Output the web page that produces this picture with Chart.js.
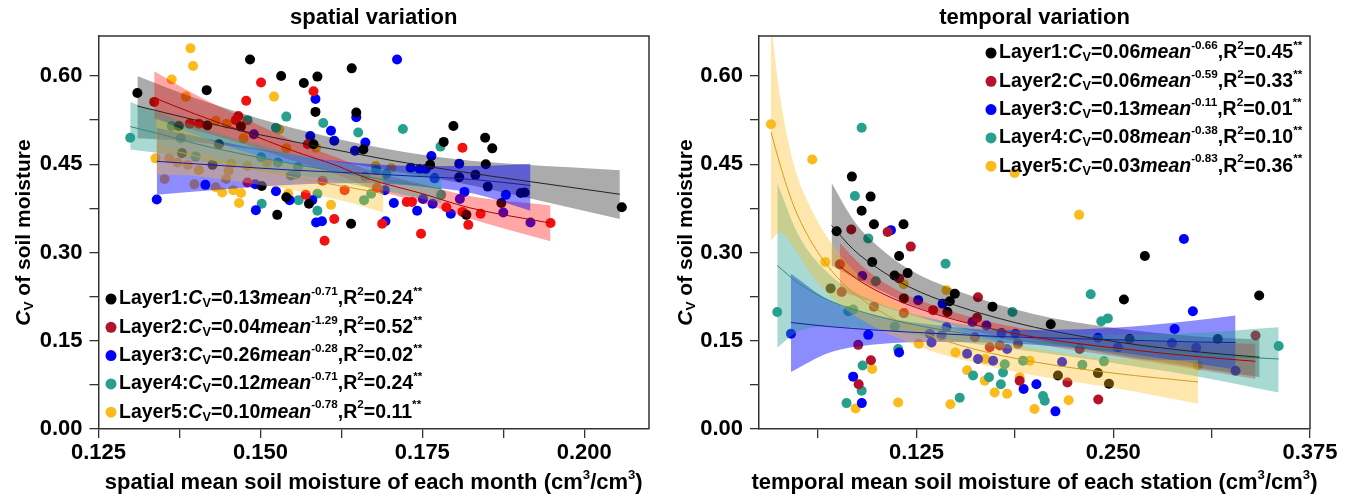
<!DOCTYPE html>
<html>
<head>
<meta charset="utf-8">
<script src="https://cdn.jsdelivr.net/npm/chart.js@4.4.1/dist/chart.umd.min.js"></script>
<style>
  body { margin: 0; background: #fff; }
  #wrap { display: flex; width: 1351px; height: 497px; }
  canvas { display: block; }
</style>
</head>
<body>
<div id="wrap">
  <canvas id="spatial" width="670" height="497"></canvas>
  <canvas id="temporal" width="681" height="497"></canvas>
</div>
<script>
// legend / equation text
const layerNames = ['Layer1', 'Layer2', 'Layer3', 'Layer4', 'Layer5'];
const spatialCoef = ['0.13', '0.04', '0.26', '0.12', '0.10'];
const spatialExp = ['-0.71', '-1.29', '-0.28', '-0.71', '-0.78'];
const spatialR2 = ['0.24', '0.52', '0.02', '0.24', '0.11'];
const temporalCoef = ['0.06', '0.06', '0.13', '0.08', '0.03'];
const temporalExp = ['-0.66', '-0.59', '-0.11', '-0.38', '-0.83'];
const temporalR2 = ['0.45', '0.33', '0.01', '0.10', '0.36'];

// ticks
const yTicks = [0, 0.075, 0.15, 0.225, 0.3, 0.375, 0.45, 0.525, 0.6];
const yTickLabels = ['0.00', '', '0.15', '', '0.30', '', '0.45', '', '0.60'];
const spatialXTicks = [0.125, 0.1375, 0.15, 0.1625, 0.175, 0.1875, 0.2];
const spatialXTickLabels = ['0.125', '', '0.150', '', '0.175', '', '0.200'];
const temporalXTicks = [0.0625, 0.125, 0.1875, 0.25, 0.3125, 0.375];
const temporalXTickLabels = ['', '0.125', '', '0.250', '', '0.375'];

// spatial variation: monthly points, one sub-array per layer
const spatialPointsX = [
  [0.1310, 0.1417, 0.1484, 0.1532, 0.1567, 0.1588, 0.1585, 0.1641, 0.1648, 0.1659, 0.1762, 0.1783, 0.1798, 0.1847, 0.1858, 0.1848, 0.2058, 0.1526, 0.1640, 0.1502, 0.1540, 0.1575, 0.1818, 0.1418, 0.1470, 0.1374, 0.1436, 0.1379, 0.1582, 0.1851, 0.1902, 0.1908, 0.1832, 0.1807, 0.1872, 0.1426],
  [0.1336, 0.1501, 0.1478, 0.1582, 0.1462, 0.1466, 0.1391, 0.1405, 0.1573, 0.1570, 0.1599, 0.1614, 0.1630, 0.1688, 0.1726, 0.1734, 0.1748, 0.1787, 0.1812, 0.1812, 0.1821, 0.1840, 0.1948, 0.1480, 0.1596, 0.1680],
  [0.1340, 0.1585, 0.1609, 0.1614, 0.1648, 0.1646, 0.1662, 0.1711, 0.1764, 0.1732, 0.1746, 0.1755, 0.1807, 0.1815, 0.1879, 0.1706, 0.1742, 0.1693, 0.1794, 0.1493, 0.1492, 0.1524, 0.1545, 0.1580, 0.1586, 0.1595, 0.1415, 0.1577, 0.1917, 0.1875, 0.1808, 0.1751, 0.1766, 0.1490, 0.1769, 0.1692],
  [0.1299, 0.1540, 0.1597, 0.1651, 0.1720, 0.1778, 0.1480, 0.1524, 0.1400, 0.1527, 0.1502, 0.1501, 0.1559, 0.1588, 0.1588, 0.1660, 0.1671, 0.1547, 0.1555, 0.1558, 0.1679, 0.1694, 0.1779, 0.1363, 0.1377, 0.1662],
  [0.1392, 0.1396, 0.1363, 0.1385, 0.1521, 0.1338, 0.1359, 0.1372, 0.1388, 0.1352, 0.1405, 0.1398, 0.1431, 0.1441, 0.1447, 0.1451, 0.1455, 0.1458, 0.1470, 0.1467, 0.1480, 0.1510, 0.1543, 0.1609, 0.1431, 0.1474, 0.1540, 0.1529, 0.1586, 0.1448, 0.1678, 0.1702]
];
const spatialPointsY = [
  [0.571, 0.576, 0.628, 0.600, 0.588, 0.599, 0.539, 0.613, 0.538, 0.475, 0.449, 0.488, 0.515, 0.495, 0.477, 0.450, 0.377, 0.364, 0.349, 0.413, 0.394, 0.383, 0.364, 0.516, 0.514, 0.515, 0.484, 0.469, 0.484, 0.412, 0.401, 0.402, 0.432, 0.428, 0.384, 0.449],
  [0.556, 0.589, 0.558, 0.574, 0.525, 0.532, 0.519, 0.519, 0.484, 0.398, 0.320, 0.357, 0.406, 0.349, 0.386, 0.386, 0.332, 0.377, 0.478, 0.369, 0.347, 0.366, 0.350, 0.419, 0.422, 0.410],
  [0.390, 0.561, 0.507, 0.490, 0.530, 0.473, 0.487, 0.628, 0.464, 0.444, 0.442, 0.442, 0.451, 0.403, 0.398, 0.384, 0.371, 0.353, 0.366, 0.372, 0.416, 0.404, 0.389, 0.389, 0.351, 0.353, 0.415, 0.498, 0.351, 0.368, 0.391, 0.391, 0.383, 0.501, 0.426, 0.406],
  [0.495, 0.531, 0.520, 0.504, 0.510, 0.480, 0.525, 0.512, 0.463, 0.453, 0.383, 0.462, 0.389, 0.400, 0.371, 0.389, 0.400, 0.431, 0.433, 0.445, 0.440, 0.433, 0.398, 0.515, 0.494, 0.429],
  [0.647, 0.617, 0.594, 0.565, 0.565, 0.460, 0.460, 0.453, 0.449, 0.425, 0.440, 0.416, 0.411, 0.402, 0.425, 0.439, 0.451, 0.406, 0.401, 0.384, 0.447, 0.453, 0.400, 0.381, 0.524, 0.494, 0.477, 0.509, 0.478, 0.519, 0.447, 0.443]
];
// fitted curves and confidence bands
const spatialFitX = [
  [0.131, 0.140, 0.150, 0.160, 0.170, 0.180, 0.190, 0.2055],
  [0.1336, 0.140, 0.1475, 0.155, 0.1617, 0.1668, 0.175, 0.1823, 0.1948],
  [0.134, 0.145, 0.155, 0.165, 0.175, 0.183, 0.1917],
  [0.1299, 0.135, 0.140, 0.150, 0.160, 0.170, 0.178],
  [0.1339, 0.140, 0.148, 0.156, 0.163, 0.169]
];
const spatialFitY = [
  [0.549, 0.525, 0.500, 0.478, 0.457, 0.439, 0.423, 0.399],
  [0.563, 0.535, 0.505, 0.473, 0.448, 0.425, 0.400, 0.376, 0.350],
  [0.455, 0.447, 0.440, 0.435, 0.429, 0.424, 0.414],
  [0.514, 0.500, 0.485, 0.461, 0.441, 0.422, 0.408],
  [0.480, 0.464, 0.444, 0.426, 0.412, 0.400]
];
const spatialUpper = [
  [0.600, 0.562, 0.527, 0.498, 0.475, 0.459, 0.450, 0.440],
  [0.608, 0.568, 0.528, 0.490, 0.462, 0.440, 0.416, 0.396, 0.380],
  [0.512, 0.486, 0.466, 0.452, 0.447, 0.447, 0.451],
  [0.556, 0.535, 0.515, 0.482, 0.457, 0.440, 0.432],
  [0.528, 0.500, 0.470, 0.448, 0.437, 0.432]
];
const spatialLower = [
  [0.494, 0.488, 0.474, 0.458, 0.439, 0.420, 0.396, 0.357],
  [0.527, 0.508, 0.484, 0.456, 0.433, 0.410, 0.384, 0.358, 0.319],
  [0.398, 0.408, 0.415, 0.418, 0.412, 0.400, 0.371],
  [0.475, 0.468, 0.457, 0.440, 0.425, 0.403, 0.384],
  [0.433, 0.430, 0.418, 0.404, 0.387, 0.368]
];

// temporal variation: station points
const temporalPointsX = [
  [0.0840, 0.0959, 0.0902, 0.0980, 0.1168, 0.0743, 0.1140, 0.0969, 0.1111, 0.1194, 0.1170, 0.0705, 0.1494, 0.1447, 0.1733, 0.2103, 0.2701, 0.2568, 0.3427, 0.2604, 0.3164, 0.2149, 0.2403, 0.2473, 0.1462],
  [0.0836, 0.1067, 0.1214, 0.1140, 0.0764, 0.0775, 0.0980, 0.1170, 0.1356, 0.1641, 0.1635, 0.0961, 0.0883, 0.1621, 0.1716, 0.1779, 0.1895, 0.1906, 0.2209, 0.2405, 0.3404, 0.0880, 0.2287],
  [0.1088, 0.1261, 0.1416, 0.0453, 0.0944, 0.1140, 0.0848, 0.0903, 0.1606, 0.1695, 0.1790, 0.1879, 0.1931, 0.2133, 0.2949, 0.3006, 0.2890, 0.3277, 0.1335, 0.1346, 0.1409, 0.1441, 0.1572, 0.1641, 0.1737, 0.1826, 0.2012, 0.2403, 0.2530, 0.2873, 0.3027, 0.2175, 0.0906],
  [0.0902, 0.0859, 0.0944, 0.1435, 0.0992, 0.0817, 0.0848, 0.0366, 0.1113, 0.1134, 0.0908, 0.0902, 0.0806, 0.1525, 0.1860, 0.1610, 0.1711, 0.1786, 0.1800, 0.1811, 0.1927, 0.2054, 0.2065, 0.2357, 0.2424, 0.2466, 0.3551, 0.2304, 0.2441],
  [0.0326, 0.0588, 0.1874, 0.0671, 0.1170, 0.1441, 0.0969, 0.0864, 0.1134, 0.1466, 0.1265, 0.1498, 0.1688, 0.1572, 0.1684, 0.1747, 0.1826, 0.1906, 0.1970, 0.2000, 0.2283, 0.2217, 0.3038]
];
const temporalPointsY = [
  [0.429, 0.395, 0.371, 0.348, 0.348, 0.336, 0.294, 0.284, 0.261, 0.265, 0.222, 0.239, 0.230, 0.199, 0.208, 0.178, 0.294, 0.220, 0.227, 0.153, 0.153, 0.091, 0.095, 0.077, 0.217],
  [0.339, 0.335, 0.310, 0.256, 0.280, 0.233, 0.208, 0.197, 0.202, 0.224, 0.189, 0.117, 0.076, 0.156, 0.139, 0.142, 0.145, 0.082, 0.079, 0.050, 0.159, 0.143, 0.136],
  [0.338, 0.219, 0.213, 0.162, 0.160, 0.130, 0.089, 0.044, 0.182, 0.176, 0.163, 0.162, 0.068, 0.030, 0.323, 0.200, 0.170, 0.099, 0.162, 0.147, 0.159, 0.173, 0.128, 0.119, 0.116, 0.136, 0.076, 0.155, 0.139, 0.146, 0.138, 0.114, 0.260],
  [0.512, 0.396, 0.324, 0.281, 0.251, 0.200, 0.203, 0.199, 0.174, 0.136, 0.108, 0.065, 0.044, 0.053, 0.199, 0.091, 0.088, 0.076, 0.096, 0.110, 0.116, 0.056, 0.048, 0.229, 0.183, 0.188, 0.141, 0.109, 0.115],
  [0.518, 0.458, 0.435, 0.284, 0.246, 0.236, 0.102, 0.035, 0.045, 0.042, 0.145, 0.130, 0.119, 0.100, 0.082, 0.062, 0.060, 0.088, 0.116, 0.034, 0.364, 0.049, 0.108]
];
const temporalFitX = [
  [0.0711, 0.085, 0.100, 0.120, 0.150, 0.200, 0.250, 0.300, 0.343],
  [0.0764, 0.090, 0.110, 0.140, 0.180, 0.220, 0.260, 0.300, 0.3404],
  [0.0453, 0.070, 0.100, 0.140, 0.180, 0.220, 0.260, 0.300, 0.3277],
  [0.0366, 0.050, 0.070, 0.100, 0.140, 0.180, 0.220, 0.260, 0.300, 0.3551],
  [0.0326, 0.0383, 0.0468, 0.0574, 0.0711, 0.085, 0.100, 0.130, 0.160, 0.200, 0.250, 0.3038]
];
const temporalFitY = [
  [0.346, 0.305, 0.274, 0.242, 0.210, 0.173, 0.149, 0.132, 0.122],
  [0.276, 0.250, 0.222, 0.193, 0.166, 0.148, 0.135, 0.124, 0.115],
  [0.181, 0.174, 0.168, 0.162, 0.157, 0.154, 0.151, 0.148, 0.147],
  [0.278, 0.248, 0.218, 0.192, 0.169, 0.154, 0.143, 0.134, 0.127, 0.119],
  [0.505, 0.450, 0.381, 0.322, 0.269, 0.232, 0.203, 0.163, 0.137, 0.114, 0.095, 0.080]
];
const temporalUpper = [
  [0.418, 0.355, 0.312, 0.272, 0.236, 0.195, 0.172, 0.158, 0.152],
  [0.316, 0.278, 0.240, 0.206, 0.177, 0.160, 0.151, 0.146, 0.145],
  [0.264, 0.218, 0.192, 0.176, 0.168, 0.169, 0.174, 0.184, 0.193],
  [0.418, 0.330, 0.262, 0.215, 0.185, 0.170, 0.162, 0.160, 0.163, 0.173],
  [0.690, 0.566, 0.452, 0.378, 0.315, 0.270, 0.235, 0.189, 0.160, 0.137, 0.120, 0.117]
];
const temporalLower = [
  [0.278, 0.258, 0.238, 0.213, 0.186, 0.152, 0.127, 0.106, 0.088],
  [0.236, 0.222, 0.203, 0.180, 0.155, 0.136, 0.120, 0.103, 0.085],
  [0.097, 0.130, 0.144, 0.148, 0.146, 0.139, 0.128, 0.112, 0.101],
  [0.138, 0.166, 0.174, 0.169, 0.153, 0.138, 0.124, 0.108, 0.091, 0.062],
  [0.320, 0.334, 0.310, 0.266, 0.223, 0.194, 0.171, 0.137, 0.114, 0.091, 0.070, 0.043]
];

// styles
const FONT = '"Liberation Sans", Arial, sans-serif';
const spatialColors = ['#000000', '#f21111', '#0000ff', '#27a08e', '#fbbb1c'];
const temporalColors = ['#000000', '#b3122c', '#0000ff', '#27a08e', '#fbbb1c'];
const legendColors = ['#000000', '#b3122c', '#0000ff', '#27a08e', '#fbbb1c'];
const bandColors = ['rgba(0,0,0,0.33)', 'rgba(255,0,0,0.35)', 'rgba(0,0,255,0.45)', 'rgba(38,160,142,0.4)', 'rgba(251,187,28,0.36)'];
const fitColors = ['#222222', '#b00000', '#1a1aa0', '#2c8a7c', '#c9a020'];

const pairs = (xs, ys) => xs.map((x, i) => ({ x: x, y: ys[i] }));

function buildDatasets(px, py, fx, fy, up, lo, colors) {
  const sets = [];
  for (let i = 0; i < 5; i++) {
    sets.push({
      label: layerNames[i], data: pairs(px[i], py[i]), showLine: false,
      pointRadius: 5, pointHoverRadius: 5, pointBackgroundColor: colors[i],
      pointBorderWidth: 0, order: 20
    });
  }
  for (let i = 0; i < 5; i++) {
    sets.push({
      label: layerNames[i] + ' upper', data: pairs(fx[i], up[i]), fill: '+1',
      backgroundColor: bandColors[i], borderWidth: 0, pointRadius: 0,
      cubicInterpolationMode: 'monotone', order: 10 - i
    });
    sets.push({
      label: layerNames[i] + ' lower', data: pairs(fx[i], lo[i]), fill: false,
      borderWidth: 0, pointRadius: 0, cubicInterpolationMode: 'monotone', order: 10 - i
    });
  }
  for (let i = 0; i < 5; i++) {
    sets.push({
      label: layerNames[i] + ' fit', data: pairs(fx[i], fy[i]), fill: false,
      borderColor: fitColors[i], borderWidth: 1, pointRadius: 0,
      cubicInterpolationMode: 'monotone', order: 1
    });
  }
  return sets;
}

// rich text: segments of [text, kind] where kind is n / i / sup / sub
function drawRich(ctx, segs, x, y, size, measureOnly) {
  let cx = x;
  for (const [t, k] of segs) {
    let fs = size, dy = 0, st = 'bold';
    if (k === 'i') st = 'italic bold';
    if (k === 'sup') { fs = size * 0.6; dy = -size * 0.36; }
    if (k === 'sub') { fs = size * 0.65; dy = size * 0.25; }
    ctx.font = st + ' ' + fs + 'px ' + FONT;
    if (!measureOnly) ctx.fillText(t, cx, y + dy);
    cx += ctx.measureText(t).width;
  }
  return cx - x;
}

function decor(cfg) {
  return {
    id: 'decor',
    afterDraw(chart) {
      const ctx = chart.ctx, a = chart.chartArea;
      ctx.save();
      ctx.strokeStyle = '#333';
      ctx.lineWidth = 1.5;
      ctx.beginPath();
      ctx.moveTo(a.left, a.top);
      ctx.lineTo(a.right, a.top);
      ctx.lineTo(a.right, a.bottom);
      ctx.stroke();

      ctx.fillStyle = '#000';
      ctx.textBaseline = 'middle';
      ctx.textAlign = 'center';
      ctx.font = 'bold 22px ' + FONT;
      ctx.fillText(cfg.title, (a.left + a.right) / 2, 18);

      ctx.textAlign = 'left';
      const xw = drawRich(ctx, cfg.xTitle, 0, 0, 22, true);
      drawRich(ctx, cfg.xTitle, (a.left + a.right) / 2 - xw / 2, 483, 22);

      const yTitle = [['C', 'i'], ['V', 'sub'], [' of soil moisture', 'n']];
      ctx.save();
      ctx.translate(cfg.yTitleX, (a.top + a.bottom) / 2);
      ctx.rotate(-Math.PI / 2);
      const yw = drawRich(ctx, yTitle, 0, 0, 21, true);
      drawRich(ctx, yTitle, -yw / 2, 0, 21);
      ctx.restore();

      for (let i = 0; i < 5; i++) {
        const ly = cfg.legY + i * 28.3;
        ctx.fillStyle = legendColors[i];
        ctx.beginPath();
        ctx.arc(cfg.legX, ly, 5.5, 0, Math.PI * 2);
        ctx.fill();
        ctx.fillStyle = '#000';
        drawRich(ctx, [
          [layerNames[i] + ':', 'n'], ['C', 'i'], ['V', 'sub'], ['=' + cfg.coef[i], 'n'],
          ['mean', 'i'], [cfg.exp[i], 'sup'], [',R', 'n'], ['2', 'sup'],
          ['=' + cfg.r2[i], 'n'], ['**', 'sup']
        ], cfg.legX + 8, ly, 19.5);
      }
      ctx.restore();
    }
  };
}

function axes(xMin, xMax, xTicks, xLabels, yWidth) {
  const tickFont = { family: FONT, size: 22, weight: 'bold' };
  const grid = { drawOnChartArea: false, drawTicks: true, tickLength: 9, color: '#333', lineWidth: 1.3 };
  return {
    x: {
      type: 'linear', min: xMin, max: xMax,
      afterBuildTicks: (s) => { s.ticks = xTicks.map(v => ({ value: v })); },
      afterFit: (s) => { s.height = 68; },
      ticks: { callback: (v, i) => xLabels[i], autoSkip: false, maxRotation: 0, font: tickFont, color: '#000', padding: 2 },
      grid: grid, border: { color: '#333', width: 1.5 }
    },
    y: {
      min: 0, max: 0.668,
      afterBuildTicks: (s) => { s.ticks = yTicks.map(v => ({ value: v })); },
      afterFit: (s) => { s.width = yWidth; },
      ticks: { callback: (v, i) => yTickLabels[i], autoSkip: false, font: tickFont, color: '#000', padding: 7 },
      grid: grid, border: { color: '#333', width: 1.5 }
    }
  };
}

new Chart(document.getElementById('spatial'), {
  type: 'line',
  data: { datasets: buildDatasets(spatialPointsX, spatialPointsY, spatialFitX, spatialFitY, spatialUpper, spatialLower, spatialColors) },
  options: {
    responsive: false, animation: false, events: [],
    layout: { padding: { left: 0, right: 21, top: 36, bottom: 0 } },
    scales: axes(0.125, 0.21, spatialXTicks, spatialXTickLabels, 98.5),
    plugins: { legend: { display: false }, tooltip: { enabled: false } }
  },
  plugins: [decor({
    title: 'spatial variation',
    xTitle: [['spatial mean soil moisture of each month (cm', 'n'], ['3', 'sup'], ['/cm', 'n'], ['3', 'sup'], [')', 'n']],
    yTitleX: 24, legX: 111, legY: 299,
    coef: spatialCoef, exp: spatialExp, r2: spatialR2
  })]
});

new Chart(document.getElementById('temporal'), {
  type: 'line',
  data: { datasets: buildDatasets(temporalPointsX, temporalPointsY, temporalFitX, temporalFitY, temporalUpper, temporalLower, temporalColors) },
  options: {
    responsive: false, animation: false, events: [],
    layout: { padding: { left: 0, right: 41, top: 36, bottom: 0 } },
    scales: axes(0.025, 0.375, temporalXTicks, temporalXTickLabels, 89),
    plugins: { legend: { display: false }, tooltip: { enabled: false } }
  },
  plugins: [decor({
    title: 'temporal variation',
    xTitle: [['temporal mean soil moisture of each station (cm', 'n'], ['3', 'sup'], ['/cm', 'n'], ['3', 'sup'], [')', 'n']],
    yTitleX: 16, legX: 321, legY: 53,
    coef: temporalCoef, exp: temporalExp, r2: temporalR2
  })]
});
</script>
</body>
</html>
